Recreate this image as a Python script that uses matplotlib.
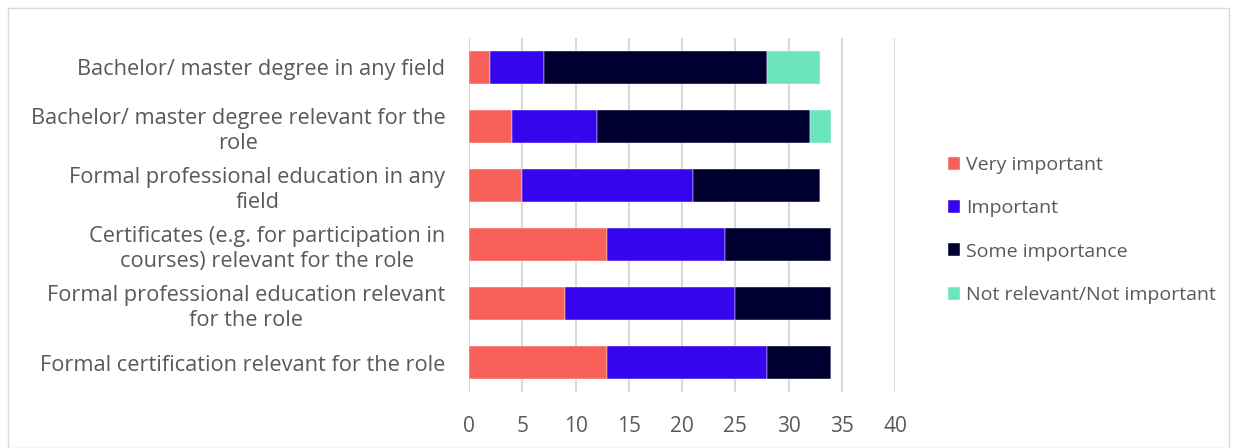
import matplotlib
matplotlib.use("Agg")
import matplotlib.pyplot as plt
import numpy as np

plt.rcParams['font.family'] = ['Open Sans', 'DejaVu Sans']

categories = [
    "Bachelor/ master degree in any field",
    "Bachelor/ master degree relevant for the\nrole",
    "Formal professional education in any\nfield",
    "Certificates (e.g. for participation in\ncourses) relevant for the role",
    "Formal professional education relevant\nfor the role",
    "Formal certification relevant for the role",
]
series_names = ["Very important", "Important", "Some importance", "Not relevant/Not important"]
very_important = [2, 4, 5, 13, 9, 13]
important = [5, 8, 16, 11, 16, 15]
some_importance = [21, 20, 12, 10, 9, 6]
not_relevant = [5, 2, 0, 0, 0, 0]
colors = ["#F8605A", "#3505EE", "#000030", "#6CE4BD"]

txt = "#595959"
fig = plt.figure(figsize=(12.37, 4.48), dpi=100)
# chart area border
fig.patches.append(plt.Rectangle((8/1237, 0), 1 - 16/1237, 1 - 8/448, transform=fig.transFigure,
                                 fill=False, edgecolor="#D9D9D9", linewidth=1))
ax = fig.add_axes([469/1237, 1 - 392/448, (895 - 469)/1237, (392 - 38)/448])

y = np.arange(len(categories))
left = np.zeros(len(categories))
for name, vals, c in zip(series_names, [very_important, important, some_importance, not_relevant], colors):
    vals = np.array(vals, dtype=float)
    ax.barh(y, vals, left=left, height=0.56, color=c, label=name, zorder=3,
            edgecolor="white", linewidth=0.3)
    left += vals

ax.set_xlim(0, 40)
ax.set_ylim(len(categories) - 0.5, -0.5)
ax.set_xticks(range(0, 41, 5))
ax.set_yticks(y)
ax.set_yticklabels(categories, fontsize=15.7, color=txt, multialignment="center", linespacing=1.25)
ax.tick_params(axis="y", length=0, pad=17)
ax.tick_params(axis="x", length=0, pad=17, labelsize=15, labelcolor=txt)
for s in ax.spines.values():
    s.set_visible(False)
ax.grid(axis="x", color="#D9D9D9", linewidth=1.5, zorder=0)
ax.set_axisbelow(True)

ax.legend(loc="center left", bbox_to_anchor=(940/1237, 1 - 230/448), bbox_transform=fig.transFigure,
          frameon=False, fontsize=14, labelcolor=txt, handlelength=0.65, handleheight=0.65,
          handletextpad=0.3, labelspacing=1.3, borderaxespad=0)

fig.savefig("out.png", dpi=100)
